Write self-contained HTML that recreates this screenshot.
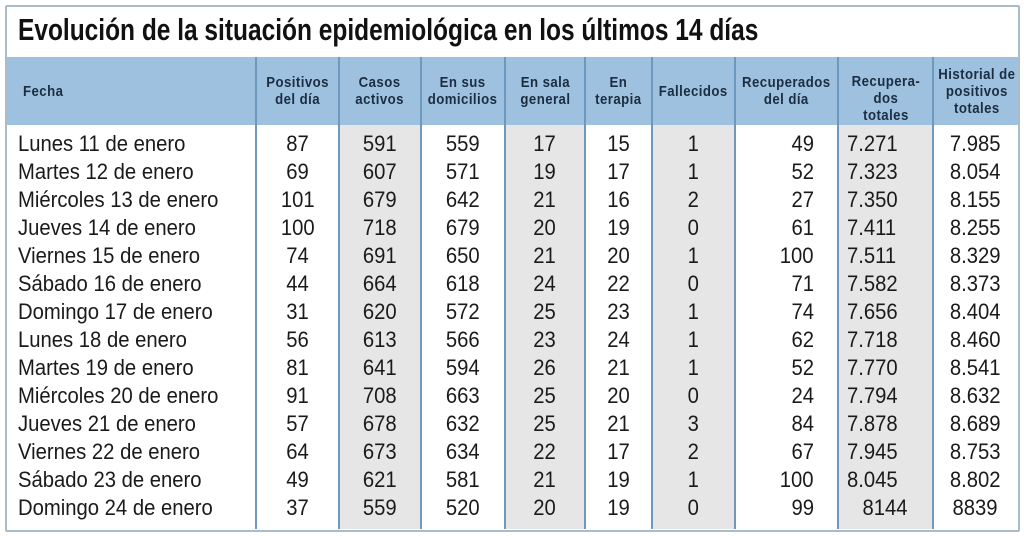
<!DOCTYPE html>
<html><head><meta charset="utf-8"><style>
body{margin:0;background:#fff;width:1024px;height:536px;overflow:hidden;font-family:"Liberation Sans",sans-serif;color:#1a1a1a}
#box{position:absolute;left:5px;top:5px;width:1011px;height:523px;border:2px solid #a9bccb;border-radius:2px;z-index:2}
#title{position:absolute;left:18px;top:12px;font-weight:bold;font-size:31px;white-space:nowrap;transform:scaleX(0.79);transform-origin:left top;color:#111}
#wrap{position:absolute;left:7px;top:57px;width:1011px;height:472px;overflow:hidden}
#hdr{position:absolute;left:0;top:0;width:1011px;height:68px;background:#9ec1df}
table{position:absolute;left:0;top:0;border-collapse:collapse;table-layout:fixed;width:1011px}
td,th{padding:0;border:none;text-align:center;white-space:nowrap;overflow:visible}
th{height:68px;font-size:15px;font-weight:bold;color:#1b2d40;line-height:17px}
th span{display:inline-block;transform:scaleX(0.88);letter-spacing:0.5px}
td{height:28px;font-size:22.5px;line-height:28px}
td span{display:inline-block;transform:scaleX(0.9)}
tr.f td{padding-top:5px;height:28px}
.g{background:#e6e6e6}
td.l{text-align:left;padding-left:11px}
td.l span{transform-origin:left center}
td.r{text-align:right;padding-right:24px}
td.r span{transform-origin:right center}
td.ll{text-align:left;padding-left:9px}
td.ll span{transform-origin:left center}
th.l{text-align:left;padding-left:16px}
th.l span{transform-origin:left center}
.v{position:absolute;top:57px;width:2px;height:472px;background:#6f98bd;z-index:1}
</style></head><body>
<div id="box"></div>
<div id="title">Evolución de la situación epidemiológica en los últimos 14 días</div>
<div id="wrap">
<div id="hdr"></div>
<table>
<colgroup><col style="width:249px"><col style="width:83px"><col style="width:82px"><col style="width:84px"><col style="width:80px"><col style="width:67px"><col style="width:83px"><col style="width:103px"><col style="width:95px"><col style="width:85px"></colgroup>
<tr><th class="l"><span>Fecha</span></th><th><span>Positivos<br>del día</span></th><th><span>Casos<br>activos</span></th><th><span>En sus<br>domicilios</span></th><th><span>En sala<br>general</span></th><th><span>En<br>terapia</span></th><th><span>Fallecidos</span></th><th><span>Recuperados<br>del día</span></th><th><span style="padding-top:14px">Recupera-<br>dos<br>totales</span></th><th><span>Historial de<br>positivos<br>totales</span></th></tr>
<tr class="f"><td class="l"><span>Lunes 11 de enero</span></td><td><span>87</span></td><td class="g"><span>591</span></td><td><span>559</span></td><td class="g"><span>17</span></td><td><span>15</span></td><td class="g"><span>1</span></td><td class="r"><span>49</span></td><td class="g ll"><span>7.271</span></td><td><span>7.985</span></td></tr>
<tr><td class="l"><span>Martes 12 de enero</span></td><td><span>69</span></td><td class="g"><span>607</span></td><td><span>571</span></td><td class="g"><span>19</span></td><td><span>17</span></td><td class="g"><span>1</span></td><td class="r"><span>52</span></td><td class="g ll"><span>7.323</span></td><td><span>8.054</span></td></tr>
<tr><td class="l"><span>Miércoles 13 de enero</span></td><td><span>101</span></td><td class="g"><span>679</span></td><td><span>642</span></td><td class="g"><span>21</span></td><td><span>16</span></td><td class="g"><span>2</span></td><td class="r"><span>27</span></td><td class="g ll"><span>7.350</span></td><td><span>8.155</span></td></tr>
<tr><td class="l"><span>Jueves 14 de enero</span></td><td><span>100</span></td><td class="g"><span>718</span></td><td><span>679</span></td><td class="g"><span>20</span></td><td><span>19</span></td><td class="g"><span>0</span></td><td class="r"><span>61</span></td><td class="g ll"><span>7.411</span></td><td><span>8.255</span></td></tr>
<tr><td class="l"><span>Viernes 15 de enero</span></td><td><span>74</span></td><td class="g"><span>691</span></td><td><span>650</span></td><td class="g"><span>21</span></td><td><span>20</span></td><td class="g"><span>1</span></td><td class="r"><span>100</span></td><td class="g ll"><span>7.511</span></td><td><span>8.329</span></td></tr>
<tr><td class="l"><span>Sábado 16 de enero</span></td><td><span>44</span></td><td class="g"><span>664</span></td><td><span>618</span></td><td class="g"><span>24</span></td><td><span>22</span></td><td class="g"><span>0</span></td><td class="r"><span>71</span></td><td class="g ll"><span>7.582</span></td><td><span>8.373</span></td></tr>
<tr><td class="l"><span>Domingo 17 de enero</span></td><td><span>31</span></td><td class="g"><span>620</span></td><td><span>572</span></td><td class="g"><span>25</span></td><td><span>23</span></td><td class="g"><span>1</span></td><td class="r"><span>74</span></td><td class="g ll"><span>7.656</span></td><td><span>8.404</span></td></tr>
<tr><td class="l"><span>Lunes 18 de enero</span></td><td><span>56</span></td><td class="g"><span>613</span></td><td><span>566</span></td><td class="g"><span>23</span></td><td><span>24</span></td><td class="g"><span>1</span></td><td class="r"><span>62</span></td><td class="g ll"><span>7.718</span></td><td><span>8.460</span></td></tr>
<tr><td class="l"><span>Martes 19 de enero</span></td><td><span>81</span></td><td class="g"><span>641</span></td><td><span>594</span></td><td class="g"><span>26</span></td><td><span>21</span></td><td class="g"><span>1</span></td><td class="r"><span>52</span></td><td class="g ll"><span>7.770</span></td><td><span>8.541</span></td></tr>
<tr><td class="l"><span>Miércoles 20 de enero</span></td><td><span>91</span></td><td class="g"><span>708</span></td><td><span>663</span></td><td class="g"><span>25</span></td><td><span>20</span></td><td class="g"><span>0</span></td><td class="r"><span>24</span></td><td class="g ll"><span>7.794</span></td><td><span>8.632</span></td></tr>
<tr><td class="l"><span>Jueves 21 de enero</span></td><td><span>57</span></td><td class="g"><span>678</span></td><td><span>632</span></td><td class="g"><span>25</span></td><td><span>21</span></td><td class="g"><span>3</span></td><td class="r"><span>84</span></td><td class="g ll"><span>7.878</span></td><td><span>8.689</span></td></tr>
<tr><td class="l"><span>Viernes 22 de enero</span></td><td><span>64</span></td><td class="g"><span>673</span></td><td><span>634</span></td><td class="g"><span>22</span></td><td><span>17</span></td><td class="g"><span>2</span></td><td class="r"><span>67</span></td><td class="g ll"><span>7.945</span></td><td><span>8.753</span></td></tr>
<tr><td class="l"><span>Sábado 23 de enero</span></td><td><span>49</span></td><td class="g"><span>621</span></td><td><span>581</span></td><td class="g"><span>21</span></td><td><span>19</span></td><td class="g"><span>1</span></td><td class="r"><span>100</span></td><td class="g ll"><span>8.045</span></td><td><span>8.802</span></td></tr>
<tr><td class="l"><span>Domingo 24 de enero</span></td><td><span>37</span></td><td class="g"><span>559</span></td><td><span>520</span></td><td class="g"><span>20</span></td><td><span>19</span></td><td class="g"><span>0</span></td><td class="r"><span>99</span></td><td class="g"><span>8144</span></td><td><span>8839</span></td></tr>
<tr><td style="height:30px"></td><td></td><td class="g"></td><td></td><td class="g"></td><td></td><td class="g"></td><td></td><td class="g"></td><td></td></tr>
</table>
</div>
<div class="v" style="left:255px"></div><div class="v" style="left:338px"></div><div class="v" style="left:420px"></div><div class="v" style="left:504px"></div><div class="v" style="left:584px"></div><div class="v" style="left:651px"></div><div class="v" style="left:734px"></div><div class="v" style="left:837px"></div><div class="v" style="left:932px"></div>
</body></html>
